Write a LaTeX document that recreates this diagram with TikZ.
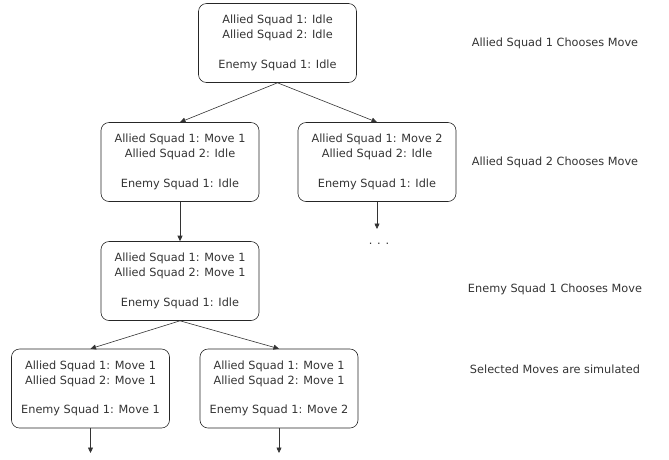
\documentclass[tikz,border=0pt]{standalone}
\usepackage{fontspec}
\setmainfont{DejaVu Sans}
\usetikzlibrary{arrows.meta}
\definecolor{txt}{HTML}{333333}
\tikzset{
  state/.style={draw=black!85, line width=0.6pt, rounded corners=8pt, minimum width=158pt, minimum height=79pt,
    align=center, font=\fontsize{11.3}{14.8}\selectfont, text=txt, inner sep=0pt},
  lbl/.style={font=\fontsize{11.3}{13}\selectfont, text=txt},
  arr/.style={draw=black!80, line width=0.6pt, -{Triangle[length=5.5pt,width=5pt]}}
}
\begin{document}
\begin{tikzpicture}[x=1pt,y=-1pt]
\useasboundingbox (0,0) rectangle (669,459);
\node[state] (a) at (277.5,43) {Allied Squad 1: Idle\\Allied Squad 2: Idle\\[14.8pt]Enemy Squad 1: Idle};
\node[state] (b) at (180,162) {Allied Squad 1: Move 1\\Allied Squad 2: Idle\\[14.8pt]Enemy Squad 1: Idle};
\node[state] (c) at (377,162) {Allied Squad 1: Move 2\\Allied Squad 2: Idle\\[14.8pt]Enemy Squad 1: Idle};
\node[state] (d) at (180,281) {Allied Squad 1: Move 1\\Allied Squad 2: Move 1\\[14.8pt]Enemy Squad 1: Idle};
\node[state] (e) at (90.5,388.5) {Allied Squad 1: Move 1\\Allied Squad 2: Move 1\\[14.8pt]Enemy Squad 1: Move 1};
\node[state] (f) at (279,388.5) {Allied Squad 1: Move 1\\Allied Squad 2: Move 1\\[14.8pt]Enemy Squad 1: Move 2};
\node[lbl] (dots) at (379,244) {. . .};
\coordinate (cend) at (377,229);
\coordinate (eend) at (90.5,453);
\coordinate (fend) at (279,453);
\node[lbl] (l1) at (555,43) {Allied Squad 1 Chooses Move};
\node[lbl] (l2) at (555,162) {Allied Squad 2 Chooses Move};
\node[lbl] (l3) at (555,289) {Enemy Squad 1 Chooses Move};
\node[lbl] (l4) at (555,369) {Selected Moves are simulated};
\draw[arr] (a.south) -- (b.north);
\draw[arr] (a.south) -- (c.north);
\draw[arr] (b.south) -- (d.north);
\draw[arr] (c.south) -- (cend);
\draw[arr] (d.south) -- (e.north);
\draw[arr] (d.south) -- (f.north);
\draw[arr] (e.south) -- (eend);
\draw[arr] (f.south) -- (fend);
\end{tikzpicture}
\end{document}
